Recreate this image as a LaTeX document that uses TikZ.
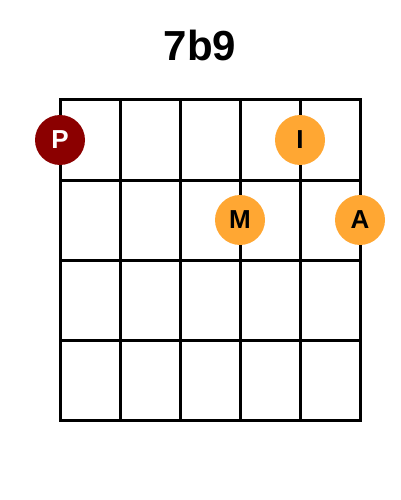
\documentclass[tikz,border=0pt]{standalone}
\usepackage{fontspec}
\setmainfont{Liberation Sans}
\definecolor{fingerred}{HTML}{8B0000}
\definecolor{fingerorange}{HTML}{FFA733}
\tikzset{
  fret/.style={line width=3pt, line cap=rect},
  finger/.style={circle, minimum size=50pt, inner sep=0pt, font=\bfseries\fontsize{26}{26}\selectfont},
  thumb/.style={finger, fill=fingerred, text=white},
  other/.style={finger, fill=fingerorange, text=black}
}

\begin{document}
\begin{tikzpicture}[x=1pt, y=-1pt]
\useasboundingbox (0,0) rectangle (400,500);
\path (200,45) node (title) [font=\bfseries\fontsize{42}{42}\selectfont] {7b9};
% strings
\foreach \s in {0,...,5}
  \draw[fret] (60+60*\s,100) -- (60+60*\s,420);
% frets
\foreach \f in {0,...,4}
  \draw[fret] (60,100+80*\f) -- (360,100+80*\f);
% fingers
\path (60,140) node (P) [thumb] {P};
\path (300,140) node (I) [other] {I};
\path (240,220) node (M) [other] {M};
\path (360,220) node (A) [other] {A};
\end{tikzpicture}
\end{document}
